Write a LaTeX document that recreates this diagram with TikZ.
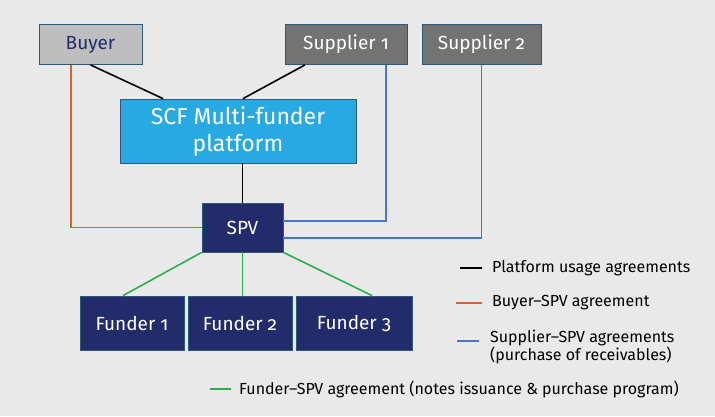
\documentclass[tikz,border=0pt]{standalone}
\usepackage{fontspec}
\setmainfont{Fira Sans}[Numbers=OldStyle]
\usetikzlibrary{calc}
\definecolor{bgc}{HTML}{E9E9E9}
\definecolor{edgec}{HTML}{2E5878}
\definecolor{buyerc}{HTML}{BEBEBE}
\definecolor{supc}{HTML}{737373}
\definecolor{platc}{HTML}{27A9E1}
\definecolor{navyc}{HTML}{232C6A}
\definecolor{orangec}{HTML}{D0632E}
\definecolor{bluec}{HTML}{4A74C9}
\definecolor{greenc}{HTML}{2DB04B}
\tikzset{
  box/.style={rectangle, draw=edgec, line width=0.8pt, inner sep=0pt, font=\fontsize{19}{21}\selectfont},
  lnk/.style={line width=1.6pt},
  legtext/.style={anchor=west, inner sep=0pt, text=black, font=\fontsize{16}{17.5}\selectfont, align=left},
}
\begin{document}
\begin{tikzpicture}[x=1pt, y=-1pt]
  \fill[bgc] (0,0) rectangle (715,416);
  \useasboundingbox (0,0) rectangle (715,416);

  % parties
  \node[box, fill=buyerc, text=navyc, minimum width=103pt, minimum height=40pt] (buyer) at (90.5,44.5) {Buyer};
  \node[box, fill=supc, text=white, minimum width=122pt, minimum height=40pt] (sup1) at (346,44.5) {Supplier 1};
  \node[box, fill=supc, text=white, minimum width=119pt, minimum height=40pt] (sup2) at (481.5,44.5) {Supplier 2};
  \node[box, fill=platc, text=white, minimum width=236pt, minimum height=64pt, align=center, font=\fontsize{23}{27}\selectfont] (plat) at (238,131) {SCF Multi-funder\\platform};
  \node[box, fill=navyc, text=white, minimum width=81pt, minimum height=49pt] (spv) at (242.5,227.5) {SPV};
  \node[box, fill=navyc, text=white, minimum width=104pt, minimum height=54pt] (f1) at (132,323) {Funder 1};
  \node[box, fill=navyc, text=white, minimum width=104pt, minimum height=54pt] (f2) at (240,323) {Funder 2};
  \node[box, fill=navyc, text=white, minimum width=116pt, minimum height=54pt] (f3) at (354,323) {Funder 3};

  % platform usage agreements
  \draw[lnk, black] (buyer.south) -- ([xshift=-75pt]plat.north);
  \draw[lnk, black] ([xshift=-41pt]sup1.south) -- ([xshift=5pt]plat.north);
  \draw[lnk, black] (plat.south -| spv.north) -- (spv.north);

  % buyer-SPV agreement
  \draw[lnk, orangec] ([xshift=-19.5pt]buyer.south) |- (spv.west);

  % supplier-SPV agreements
  \draw[lnk, bluec] ([xshift=40pt]sup1.south) |- ([yshift=6.5pt]spv.east);
  \draw[lnk, bluec] (sup2.south) |- ([yshift=-10.5pt]spv.east);

  % funder-SPV agreements
  \draw[lnk, greenc] (spv.south west) -- ([xshift=-9pt]f1.north);
  \draw[lnk, greenc] (spv.south) -- (spv.south |- f2.north);
  \draw[lnk, greenc] (spv.south east) -- ([xshift=18pt]f3.north);

  % legend
  \coordinate (k1a) at (460,268); \coordinate (k1b) at (482,268);
  \coordinate (k2a) at (456,303); \coordinate (k2b) at (482,303);
  \coordinate (k3a) at (457,341); \coordinate (k3b) at (479,341);
  \coordinate (k4a) at (210,389); \coordinate (k4b) at (231,389);
  \draw[lnk, black] (k1a) -- (k1b);
  \draw[lnk, orangec] (k2a) -- (k2b);
  \draw[lnk, bluec] (k3a) -- (k3b);
  \draw[lnk, greenc] (k4a) -- (k4b);
  \node[legtext] (t1) at (492,268) {Platform usage agreements};
  \node[legtext] (t2) at (492,303) {Buyer–SPV agreement};
  \node[legtext] (t3) at (490,347) {Supplier–SPV agreements\\(purchase of receivables)};
  \node[legtext] (t4) at (239,389) {Funder–SPV agreement (notes issuance \& purchase program)};
\end{tikzpicture}
\end{document}
